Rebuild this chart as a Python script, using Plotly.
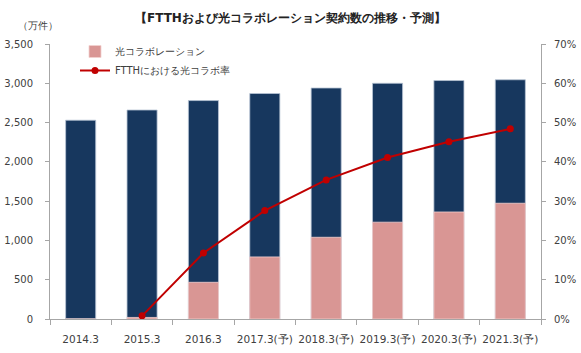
import plotly.graph_objects as go

categories = ["2014.3", "2015.3", "2016.3", "2017.3(予)", "2018.3(予)", "2019.3(予)", "2020.3(予)", "2021.3(予)"]
ftth_total = [2530, 2660, 2780, 2870, 2940, 3000, 3035, 3045]
hikari_collabo = [0, 20, 467, 790, 1040, 1232, 1362, 1473]
collabo_rate = [None, 0.8, 16.8, 27.6, 35.4, 41.1, 45.1, 48.4]

left_ticks = [0, 500, 1000, 1500, 2000, 2500, 3000, 3500]
left_ticktext = ["0", "500", "1,000", "1,500", "2,000", "2,500", "3,000", "3,500"]
right_ticks = [0, 10, 20, 30, 40, 50, 60, 70]
right_ticktext = ["0%", "10%", "20%", "30%", "40%", "50%", "60%", "70%"]

FONT = "DejaVu Sans"
TXT = "#404040"
AX = "#a6a6a6"

W, H = 581, 353
ML, MR, MT, MB = 50, 40, 44, 34
PW, PH = W - ML - MR, H - MT - MB


def px_x(x):
    return (x - ML) / PW


def px_y(y):
    return (H - MB - y) / PH


fig = go.Figure()
fig.add_trace(go.Bar(
    x=categories, y=ftth_total, name="FTTH", showlegend=False,
    marker=dict(color="#17375e", line=dict(color="#b8c4d4", width=0.8)),
    width=0.49,
))
fig.add_trace(go.Bar(
    x=categories, y=hikari_collabo, name="光コラボレーション",
    marker=dict(color="#d99694", line=dict(color="#f2d0cf", width=0.8)),
    width=0.49,
))
fig.add_trace(go.Scatter(
    x=categories, y=collabo_rate, name="FTTHにおける光コラボ率", yaxis="y2",
    mode="lines+markers",
    line=dict(color="#c00000", width=2),
    marker=dict(color="#c00000", size=7),
))

fig.update_layout(
    width=W, height=H,
    margin=dict(l=ML, r=MR, t=MT, b=MB, autoexpand=False),
    paper_bgcolor="white", plot_bgcolor="white",
    barmode="overlay",
    font=dict(family=FONT, size=10, color=TXT),
    showlegend=True,
    legend=dict(x=px_x(75), y=px_y(37), xanchor="left", yanchor="top",
                bgcolor="rgba(0,0,0,0)", font=dict(size=10, color=TXT),
                tracegroupgap=2, itemwidth=30),
    xaxis=dict(
        showline=True, linecolor=AX, linewidth=1,
        ticks="outside", tickson="boundaries", ticklen=5, tickcolor=AX,
        showgrid=False, tickfont=dict(size=10.5, color=TXT), tickangle=0,
        automargin=False, ticklabelstandoff=10,
    ),
    yaxis=dict(
        range=[0, 3500], tickvals=left_ticks, ticktext=left_ticktext,
        showline=True, linecolor=AX, linewidth=1,
        ticks="outside", ticklen=4, tickcolor=AX,
        showgrid=False, zeroline=False, tickfont=dict(size=10, color=TXT),
        ticklabelstandoff=10, automargin=False,
    ),
    yaxis2=dict(
        range=[0, 70], tickvals=right_ticks, ticktext=right_ticktext,
        overlaying="y", side="right",
        showline=True, linecolor=AX, linewidth=1,
        ticks="outside", ticklen=4, tickcolor=AX,
        showgrid=False, zeroline=False, tickfont=dict(size=10, color=TXT),
        ticklabelstandoff=6, automargin=False,
    ),
    annotations=[
        dict(text="<b>【FTTHおよび光コラボレーション契約数の推移・予測】</b>",
             x=px_x(290), y=px_y(18), xref="paper", yref="paper",
             xanchor="center", yanchor="middle", showarrow=False,
             font=dict(size=12, color="#222222", family=FONT)),
        dict(text="（万件）", x=px_x(38), y=px_y(25), xref="paper", yref="paper",
             xanchor="center", yanchor="middle", showarrow=False,
             font=dict(size=10, color=TXT)),
    ],
)

fig.write_html("out.html")
